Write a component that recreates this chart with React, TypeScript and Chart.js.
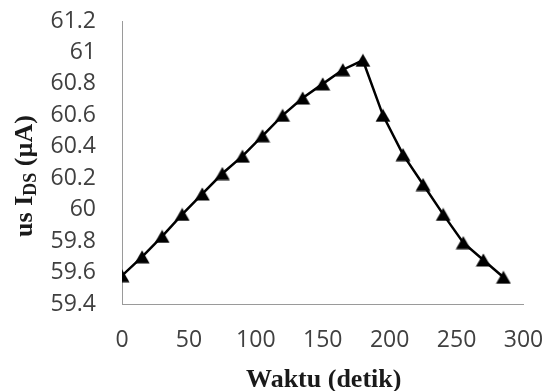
import React, { useEffect, useRef } from "react";
import { Chart, registerables } from "chart.js";

Chart.register(...registerables);

const timeSeconds = [0, 15, 30, 45, 60, 75, 90, 105, 120, 135, 150, 165, 180, 195, 210, 225, 240, 255, 270, 285];
const currentValues = [59.58, 59.70, 59.83, 59.97, 60.10, 60.23, 60.34, 60.47, 60.60, 60.71, 60.80, 60.89, 60.95, 60.60, 60.35, 60.16, 59.97, 59.79, 59.68, 59.57];
const yTickValues = [59.4, 59.6, 59.8, 60, 60.2, 60.4, 60.6, 60.8, 61, 61.2];
const yTickLabels = ["59.4", "59.6", "59.8", "60", "60.2", "60.4", "60.6", "60.8", "61", "61.2"];
const xTickValues = [0, 50, 100, 150, 200, 250, 300];
const xTickLabels = ["0", "50", "100", "150", "200", "250", "300"];
const xTitle = "Waktu (detik)";
const yTitleMain = "us I";
const yTitleSub = "DS";
const yTitleEnd = " (\u00B5A)";

function makeTriangle(): HTMLCanvasElement {
  const c = document.createElement("canvas");
  c.width = 16;
  c.height = 14;
  const g = c.getContext("2d")!;
  g.fillStyle = "#000";
  g.beginPath();
  g.moveTo(8, 0.5);
  g.lineTo(15.5, 13.5);
  g.lineTo(0.5, 13.5);
  g.closePath();
  g.fill();
  return c;
}

const titlePlugin = {
  id: "customTitles",
  afterDraw(chart: any) {
    const ctx = chart.ctx as CanvasRenderingContext2D;
    const area = chart.chartArea;
    ctx.save();
    ctx.fillStyle = "#1a1a1a";
    ctx.font = "bold 26px 'Liberation Serif'";
    ctx.textAlign = "center";
    ctx.textBaseline = "alphabetic";
    ctx.fillText(xTitle, (area.left + area.right) / 2 + 1, 387);

    const mainFont = "bold 26px 'Liberation Serif'";
    const subFont = "bold 18px 'Liberation Serif'";
    ctx.font = mainFont;
    const w1 = ctx.measureText(yTitleMain).width;
    const w3 = ctx.measureText(yTitleEnd).width;
    ctx.font = subFont;
    const w2 = ctx.measureText(yTitleSub).width;
    const total = w1 + w2 + w3;
    ctx.translate(32, 176);
    ctx.rotate(-Math.PI / 2);
    ctx.textAlign = "left";
    let x = -total / 2;
    ctx.font = mainFont;
    ctx.fillText(yTitleMain, x, 0);
    x += w1;
    ctx.font = subFont;
    ctx.fillText(yTitleSub, x, 4);
    x += w2;
    ctx.font = mainFont;
    ctx.fillText(yTitleEnd, x, 0);
    ctx.restore();
  },
};

function zeroPad(s: any) {
  s.paddingTop = 0;
  s.paddingBottom = 0;
  s.paddingLeft = 0;
  s.paddingRight = 0;
}

export default function App() {
  const ref = useRef<HTMLCanvasElement | null>(null);
  useEffect(() => {
    if (!ref.current) return;
    const tri = makeTriangle();
    const chart = new Chart(ref.current, {
      type: "line",
      data: {
        datasets: [
          {
            data: timeSeconds.map((t, i) => ({ x: t, y: currentValues[i] })),
            borderColor: "#000",
            borderWidth: 2.5,
            pointStyle: tri as any,
            pointRadius: 7,
            pointBackgroundColor: "#000",
            pointBorderColor: "#000",
            tension: 0,
            fill: false,
          },
        ],
      },
      options: {
        animation: false,
        responsive: false,
        maintainAspectRatio: false,
        layout: { padding: { top: 21, right: 23.5, left: 0, bottom: 0 } },
        plugins: { legend: { display: false }, tooltip: { enabled: false }, title: { display: false } },
        scales: {
          x: {
            type: "linear",
            min: 0,
            max: 300,
            afterBuildTicks: (s: any) => {
              s.ticks = xTickValues.map((v) => ({ value: v }));
            },
            afterFit: (s: any) => {
              s.height = 87;
              zeroPad(s);
            },
            grid: { display: false, drawTicks: false, tickLength: 0 },
            border: { display: true, color: "#9a9a9a", width: 1 },
            ticks: {
              padding: 23,
              color: "#404040",
              font: { family: "'Open Sans'", size: 23 },
              maxRotation: 0,
              autoSkip: false,
              callback: (v: any) => {
                const i = xTickValues.indexOf(Number(v));
                return i >= 0 ? xTickLabels[i] : "";
              },
            },
          },
          y: {
            type: "linear",
            min: 59.4,
            max: 61.2,
            afterBuildTicks: (s: any) => {
              s.ticks = yTickValues.map((v) => ({ value: v }));
            },
            afterFit: (s: any) => {
              s.width = 122;
              zeroPad(s);
            },
            grid: { display: false, drawTicks: false, tickLength: 0 },
            border: { display: true, color: "#9a9a9a", width: 1 },
            ticks: {
              padding: 26,
              color: "#404040",
              font: { family: "'Open Sans'", size: 23 },
              autoSkip: false,
              callback: (v: any) => {
                const i = yTickValues.findIndex((t) => Math.abs(t - Number(v)) < 1e-6);
                return i >= 0 ? yTickLabels[i] : "";
              },
            },
          },
        },
      },
      plugins: [titlePlugin],
    });
    return () => chart.destroy();
  }, []);
  return (
    <div style={{ position: "fixed", left: 0, top: 0, width: 547, height: 391, background: "#fff" }}>
      <canvas ref={ref} width={547} height={391} style={{ display: "block" }} />
    </div>
  );
}
